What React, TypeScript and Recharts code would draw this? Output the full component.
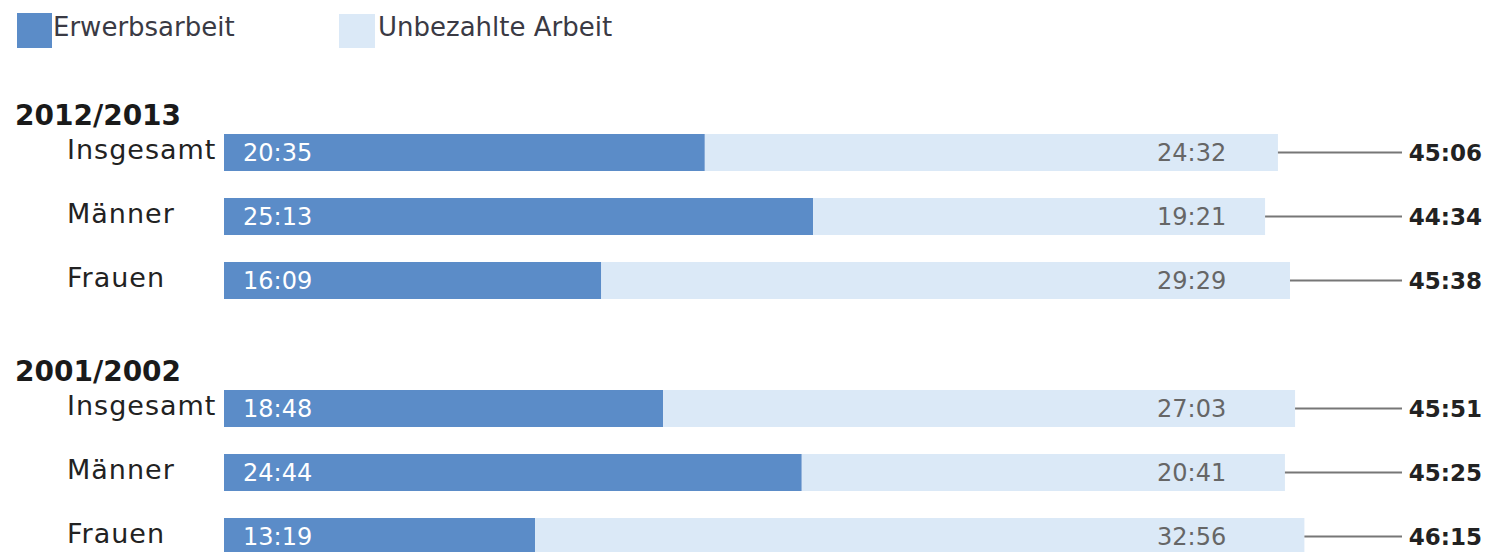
import React from "react";
import { BarChart, Bar, XAxis, YAxis, LabelList } from "recharts";

// Zeitverwendung, Stunden:Minuten je Woche
const groups = ["2012/2013", "2001/2002"];
const categories = ["Insgesamt", "Männer", "Frauen"];

const paid2012 = ["20:35", "25:13", "16:09"];
const unpaid2012 = ["24:32", "19:21", "29:29"];
const total2012 = ["45:06", "44:34", "45:38"];

const paid2001 = ["18:48", "24:44", "13:19"];
const unpaid2001 = ["27:03", "20:41", "32:56"];
const total2001 = ["45:51", "45:25", "46:15"];

const seriesNames = ["Erwerbsarbeit", "Unbezahlte Arbeit"];

const PAID_COLOR = "#5b8cc8";
const UNPAID_COLOR = "#dbe9f7";
const FONT = "'DejaVu Sans', sans-serif";
const UNPAID_LABEL_X = 1157;
const TOTAL_RIGHT_X = 1482;

const toHours = (s: string) => {
  const [h, m] = s.split(":").map(Number);
  return h + m / 60;
};

interface Row {
  key: string;
  label: string;
  group?: string;
  paid?: number;
  unpaid?: number;
  paidText?: string;
  unpaidText?: string;
  totalText?: string;
}

const buildGroup = (g: string, paid: string[], unpaid: string[], total: string[]): Row[] =>
  categories.map((c, i) => ({
    key: g + "-" + i,
    label: c,
    group: i === 0 ? g : undefined,
    paid: toHours(paid[i]),
    unpaid: toHours(unpaid[i]),
    paidText: paid[i],
    unpaidText: unpaid[i],
    totalText: total[i],
  }));

const rows: Row[] = [
  ...buildGroup(groups[0], paid2012, unpaid2012, total2012),
  { key: "gap", label: "" },
  ...buildGroup(groups[1], paid2001, unpaid2001, total2001),
];

const rowByKey = (k: string) => rows.find((r) => r.key === k);

const CategoryTick = (props: any) => {
  const { y, payload } = props;
  const row = rowByKey(payload.value);
  if (!row) return null;
  return (
    <g>
      {row.group && (
        <text x={15} y={y - 27} fontFamily={FONT} fontSize={28} fontWeight="bold" fill="#1a1a1a">
          {row.group}
        </text>
      )}
      <text x={67} y={y + 7} fontFamily={FONT} fontSize={27} letterSpacing={1} fill="#222">
        {row.label}
      </text>
    </g>
  );
};

const PaidLabel = (props: any) => {
  const { x, y, height, value } = props;
  if (value == null) return null;
  return (
    <text x={x + 19} y={y + height / 2 + 8} fontFamily={FONT} fontSize={24} fill="#fff">
      {value}
    </text>
  );
};

const UnpaidLabel = (props: any) => {
  const { y, height, value } = props;
  if (value == null) return null;
  return (
    <text x={UNPAID_LABEL_X} y={y + height / 2 + 8} fontFamily={FONT} fontSize={24} fill="#666">
      {value}
    </text>
  );
};

const TotalLabel = (props: any) => {
  const { x, y, width, height, value } = props;
  if (value == null) return null;
  const cy = y + height / 2;
  return (
    <g>
      <line x1={x + width} y1={cy} x2={TOTAL_RIGHT_X - 80} y2={cy} stroke="#777" strokeWidth={2} />
      <text
        x={TOTAL_RIGHT_X}
        y={cy + 8}
        textAnchor="end"
        fontFamily={FONT}
        fontSize={23}
        fontWeight="bold"
        fill="#222"
      >
        {value}
      </text>
    </g>
  );
};

const LegendBox = () => (
  <div style={{ position: "absolute", left: 0, top: 0, fontFamily: FONT, fontSize: 26, color: "#3a3a44" }}>
    <div style={{ position: "absolute", left: 17, top: 13, width: 35, height: 35, background: PAID_COLOR }} />
    <div style={{ position: "absolute", left: 53, top: 12, whiteSpace: "nowrap" }}>{seriesNames[0]}</div>
    <div style={{ position: "absolute", left: 339, top: 14, width: 36, height: 34, background: UNPAID_COLOR }} />
    <div style={{ position: "absolute", left: 378, top: 12, whiteSpace: "nowrap" }}>{seriesNames[1]}</div>
  </div>
);

export default function App() {
  return (
    <div
      style={{
        position: "absolute",
        left: 0,
        top: 0,
        width: 1500,
        height: 552,
        overflow: "hidden",
        background: "#fff",
      }}
    >
      <BarChart
        width={1500}
        height={580}
        data={rows}
        layout="vertical"
        margin={{ top: 120, right: 108, bottom: 12, left: 0 }}
      >
        <XAxis type="number" hide domain={[0, 50]} />
        <YAxis
          type="category"
          dataKey="key"
          width={224}
          axisLine={false}
          tickLine={false}
          tick={<CategoryTick />}
          interval={0}
        />
        <Bar dataKey="paid" stackId="a" fill={PAID_COLOR} barSize={37} isAnimationActive={false}>
          <LabelList dataKey="paidText" content={<PaidLabel />} />
        </Bar>
        <Bar dataKey="unpaid" stackId="a" fill={UNPAID_COLOR} barSize={37} isAnimationActive={false}>
          <LabelList dataKey="unpaidText" content={<UnpaidLabel />} />
          <LabelList dataKey="totalText" content={<TotalLabel />} />
        </Bar>
      </BarChart>
      <LegendBox />
    </div>
  );
}
